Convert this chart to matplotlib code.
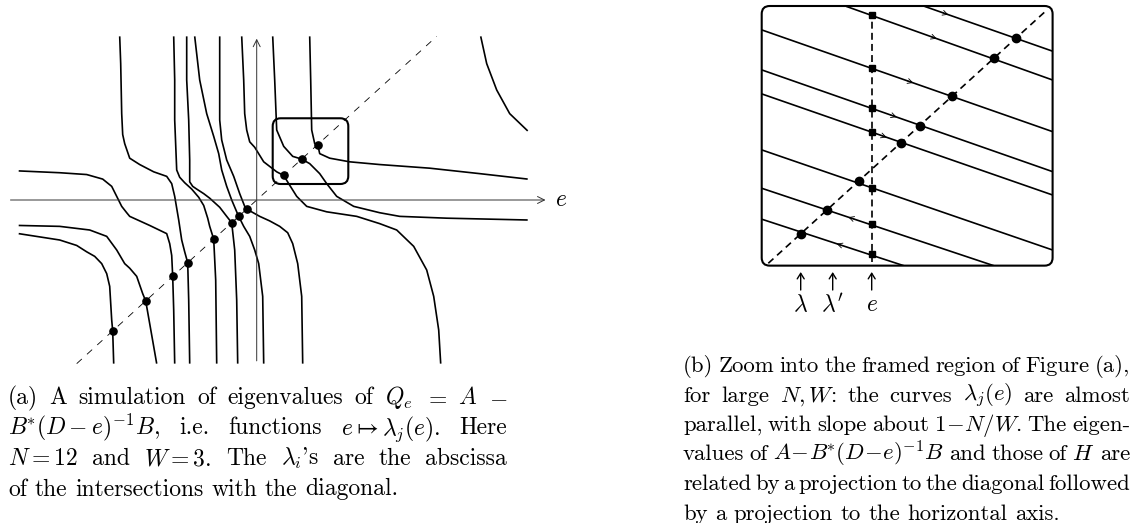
import numpy as np
import matplotlib
matplotlib.use("Agg")
import matplotlib.pyplot as plt
from matplotlib.patches import FancyBboxPatch

plt.rcParams['mathtext.fontset'] = 'cm'
plt.rcParams['font.family'] = 'cmr10'
plt.rcParams['axes.unicode_minus'] = False
plt.rcParams['lines.scale_dashes'] = False

#============ Figure (a) : branches lambda_j(e) ============#
# left branches (horizontal asymptote at e -> -inf)
crv_D_x = [-238, -197, -180, -170, -162, -155, -150, -147, -145, -144, -143]
crv_D_y = [-37, -44, -50, -57, -62, -70, -81, -95, -132, -144, -180]
crv_C_x = [-238, -197, -167, -150, -140, -132, -127, -120, -114, -111, -107, -100]
crv_C_y = [-28, -29, -33, -40, -55, -70, -75, -84, -103, -111, -136, -180]
crv_B_x = [-238, -197, -170, -154, -145, -140, -135, -130, -127, -107, -90, -87, -85, -84, -83, -82]
crv_B_y = [32, 30, 28, 23, 15, 4, -7, -14, -18, -28, -37, -48, -61, -84, -121, -180]
# branches coming from +inf on the right of a pole
crv_T1_x = [-137, -136, -135, -134, -132, -127, -117, -103, -90, -85, -82, -78, -75, -72, -69, -68, -67]
crv_T1_y = [180, 150, 95, 72, 62, 46, 39, 31, 26, 18, 4, -22, -44, -57, -69, -110, -180]
crv_T2_x = [-83, -82, -82, -80, -77, -72, -65, -58, -53, -49, -47, -43, -41, -40]
crv_T2_y = [180, 132, 88, 33, 25, 19, 12, 3, -6, -20, -29, -43, -88, -180]
crv_T3_x = [-70, -70, -68, -67, -67, -64, -60, -53, -47, -37, -30, -25, -22, -20, -19]
crv_T3_y = [180, 132, 88, 44, 20, 15, 12, 7, 2, -8, -18, -25, -55, -110, -180]
crv_T4_x = [-62, -57, -50, -43, -38, -35, -30, -25, -20, -18, -13, -7, -2, 2, 6, 7]
crv_T4_y = [180, 132, 95, 70, 51, 33, 15, 0, -13, -18, -29, -40, -55, -70, -106, -180]
crv_T5_x = [-37, -37, -37, -35, -30, -23, -17, -12, -10, 3, 13, 23, 31, 36, 41, 45, 46]
crv_T5_y = [180, 114, 88, 66, 44, 26, 7, -7, -10, -18, -23, -29, -36, -48, -70, -106, -180]
crv_T6_x = [-15, -13, -12, -10, -7, -2, 7, 20, 27, 32, 40, 50, 70, 100, 123, 140, 157, 170, 177, 182, 184]
crv_T6_y = [180, 132, 95, 77, 64, 58, 42, 31, 27, 18, 4, -7, -13, -18, -26, -33, -51, -77, -106, -143, -180]
crv_T7_x = [16, 18, 20, 27, 36, 45, 53, 63, 70, 80, 97, 123, 143, 190, 271]
crv_T7_y = [180, 132, 77, 59, 48, 45, 40, 29, 18, 4, -7, -14, -18, -20, -22]
crv_T8_x = [53, 54, 55, 58, 61, 63, 73, 93, 123, 173, 223, 271]
crv_T8_y = [180, 132, 77, 62, 61, 51, 46, 42, 39, 35, 29, 23]
crv_T9_x = [224, 230, 240, 253, 271]
crv_T9_y = [180, 150, 121, 95, 76]

lam_a = [-144, -111, -84, -69, -43, -25, -18, -10, 27, 45, 61]   # intersections with diagonal
frame_a = [16, 17.6, 91.6, 89.9]                                  # framed region (x0, y0, x1, y1)

#============ Figure (b) : zoom ============#
# segments (x0, y0, x1, y1) of the almost parallel curves
seg_b = [(157, 282.3, 284.3, 233.3),
         (78.7, 282.3, 284.3, 201.6),
         (-6.3, 256.6, 284.3, 144.8),
         (-6.3, 212.6, 284.3, 100.8),
         (-6.3, 186.2, 284.3, 75.1),
         (-6.3, 124.6, 284.3, 14.6),
         (-6.3, 82.4, 225.3, -2.6),
         (-6.3, 48.4, 135.3, -2.6)]
lam_b = [32.7, 58.7, 90.3, 132.7, 151.3, 183.7, 226, 248]
e_b = 103.7
sq_b = [273.1, 214.5, 171.2, 144.8, 83.2, 43.2, 10.2]
arr_seg = [0, 1, 2, 3, 4, 6, 7]
arr_x = [180, 168.4, 145, 128.4, 118.4, 80, 68.4]
arr_dir = [1, 1, 1, 1, 1, -1, -1]
frame_b = [-6.6, -2.6, 284.3, 283.0]
lbl_x = [32.4, 64.4, 103.4]
lbl_txt = [r'$\lambda$', r"$\lambda'$", r'$e$']

W, H = 1132, 523
FS = 17
fig = plt.figure(figsize=(W/100, H/100), dpi=100)


def px_axes(x0, y0, x1, y1):
    return fig.add_axes([x0/W, 1 - y1/H, (x1 - x0)/W, (y1 - y0)/H])


# ---- (a)
ax = px_axes(0, 20, 560, 380)
ax.set_xlim(-256.7, 303.3)
ax.set_ylim(-198, 198)
ax.axis('off')

axc = '#333333'
ax.annotate('', xy=(291.6, 0), xytext=(-249, 0),
            arrowprops=dict(arrowstyle='->,head_length=0.5,head_width=0.25', lw=0.7, color=axc))
ax.annotate('', xy=(0, 180.5), xytext=(0, -180),
            arrowprops=dict(arrowstyle='->,head_length=0.5,head_width=0.25', lw=0.7, color=axc))
ax.text(298, 0, r'$e$', fontsize=FS, ha='left', va='center')

ax.plot([-180, 180], [-180, 180], color='k', lw=0.6, ls=(0, (5, 5)))

curves = [(crv_D_x, crv_D_y), (crv_C_x, crv_C_y), (crv_B_x, crv_B_y),
          (crv_T1_x, crv_T1_y), (crv_T2_x, crv_T2_y), (crv_T3_x, crv_T3_y),
          (crv_T4_x, crv_T4_y), (crv_T5_x, crv_T5_y), (crv_T6_x, crv_T6_y),
          (crv_T7_x, crv_T7_y), (crv_T8_x, crv_T8_y), (crv_T9_x, crv_T9_y)]
for cx, cy in curves:
    ax.plot(cx, cy, color='k', lw=1.2, solid_joinstyle='round', solid_capstyle='butt')
ax.plot(lam_a, lam_a, 'o', color='k', ms=5.2)

fx0, fy0, fx1, fy1 = frame_a
ax.add_patch(FancyBboxPatch((fx0, fy0), fx1 - fx0, fy1 - fy0,
                            boxstyle='round,pad=0,rounding_size=8', mutation_aspect=1.1,
                            fc='none', ec='k', lw=1.5))

# ---- (b)
bx = px_axes(740, 0, 1100, 320)
bx.set_xlim(-28.3, 331.7)
bx.set_ylim(-62.4, 289.6)
bx.axis('off')

gx0, gy0, gx1, gy1 = frame_b
box = FancyBboxPatch((gx0, gy0), gx1 - gx0, gy1 - gy0,
                     boxstyle='round,pad=0,rounding_size=8', mutation_aspect=1.1,
                     fc='none', ec='k', lw=1.5, zorder=5)
bx.add_patch(box)

for x0, y0, x1, y1 in seg_b:
    l, = bx.plot([x0, x1], [y0, y1], color='k', lw=1.2)
    l.set_clip_path(box)

d, = bx.plot([0, 278.5], [0, 278.5], color='k', lw=1.2, ls=(0, (5, 3.5)))
d.set_clip_path(box)
bx.plot([e_b, e_b], [1.8, 273], color='k', lw=1.2, ls=(0, (5, 3)))
bx.plot([e_b]*len(sq_b), sq_b, 's', color='k', ms=4.5)
bx.plot(lam_b, lam_b, 'o', color='k', ms=6)

for k, xa, s in zip(arr_seg, arr_x, arr_dir):
    x0, y0, x1, y1 = seg_b[k]
    xt = xa - 6*s
    ya = np.interp(xa, [x0, x1], [y0, y1])
    yt = np.interp(xt, [x0, x1], [y0, y1])
    bx.annotate('', xy=(xa, ya), xytext=(xt, yt),
                arrowprops=dict(arrowstyle='->,head_length=0.35,head_width=0.18', lw=0.6,
                                shrinkA=0, shrinkB=0))

for xl, t in zip(lbl_x, lbl_txt):
    bx.annotate('', xy=(xl, -9.6), xytext=(xl, -29.4),
                arrowprops=dict(arrowstyle='->,head_length=0.4,head_width=0.25', lw=1.0,
                                shrinkA=0, shrinkB=0))
    bx.text(xl, -46, t, fontsize=FS, ha='center', va='center')

# ---- captions (justified lines)
renderer = fig.canvas.get_renderer()


def put_line(tokens, x0, x1, yb, fs, justify=True):
    ts = [fig.text(0, 1 - yb/H, t, fontsize=fs, ha='left', va='baseline') for t in tokens]
    ws = [t.get_window_extent(renderer).width for t in ts]
    if justify and len(ts) > 1:
        gap = (x1 - x0 - sum(ws)) / (len(ts) - 1)
    else:
        gap = fs*100/72*0.33
    x = x0
    for t, w in zip(ts, ws):
        t.set_x(x/W)
        x += w + gap


cap_a = [['(a)', 'A', 'simulation', 'of', 'eigenvalues', 'of', r'$Q_e$', r'$=$', r'$A$', r'$-$'],
         [r'$B^{\!\!*}\!(D-e)^{-1}B$,', 'i.e.', 'functions', r'$e\mapsto\lambda_j(e)$.', 'Here'],
         [r'$N=12$', 'and', r'$W=3$.', 'The', r"$\lambda_i$'s", 'are', 'the', 'abscissa'],
         ['of', 'the', 'intersections', 'with', 'the', 'diagonal.']]
cap_b = [['(b)', 'Zoom', 'into', 'the', 'framed', 'region', 'of', 'Figure', '(a),'],
         ['for', 'large', r'$N,W$:', 'the', 'curves', r'$\lambda_j(e)$', 'are', 'almost'],
         ['parallel,', 'with', 'slope', 'about', r'$1\!-\!N/W$.', 'The', 'eigen-'],
         ['values', 'of', r'$A\!-\!B^{\!\!*}\!(D\!-\!e)^{-1}B$', 'and', 'those', 'of', r'$H$', 'are'],
         ['related', 'by', 'a', 'projection', 'to', 'the', 'diagonal', 'followed'],
         ['by', 'a', 'projection', 'to', 'the', 'horizontal', 'axis.']]

for i, toks in enumerate(cap_a):
    put_line(toks, 8, 507, 404 + 30.5*i, FS, justify=(i < len(cap_a) - 1))
for i, toks in enumerate(cap_b):
    put_line(toks, 683, 1130, 372 + 29.5*i, FS - 0.6, justify=(i < len(cap_b) - 1))

fig.savefig('out.png', dpi=100)
